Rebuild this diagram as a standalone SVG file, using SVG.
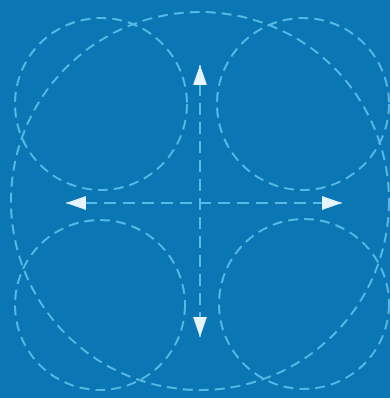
<svg xmlns="http://www.w3.org/2000/svg" width="390" height="398" viewBox="0 0 390 398">
  <defs>
    <style>
      .ring { fill: none; stroke: #58b9e6; stroke-width: 2; stroke-dasharray: 10 6; }
      .axis { fill: none; stroke: #58b9e6; stroke-width: 2; stroke-dasharray: 12 7; }
    </style>
    <marker id="head" viewBox="0 0 20 14" refX="20" refY="7" markerWidth="20" markerHeight="14" markerUnits="userSpaceOnUse" orient="auto-start-reverse">
      <path d="M0,0 L20,7 L0,14 Z" fill="#e6f5fd"/>
    </marker>
  </defs>
  <rect x="0" y="0" width="390" height="398" fill="#0a77b4"/>
  <g id="outer-circle">
    <circle class="ring" cx="200" cy="201" r="189"/>
  </g>
  <g id="circle-top-left">
    <circle class="ring" cx="101" cy="104" r="86"/>
  </g>
  <g id="circle-top-right">
    <circle class="ring" cx="303" cy="104" r="86"/>
  </g>
  <g id="circle-bottom-left">
    <circle class="ring" cx="100" cy="305" r="85"/>
  </g>
  <g id="circle-bottom-right">
    <circle class="ring" cx="304" cy="304" r="85"/>
  </g>
  <g id="connectors">
    <line class="axis" x1="200" y1="65" x2="200" y2="337" marker-start="url(#head)" marker-end="url(#head)"/>
    <line class="axis" x1="66" y1="203" x2="342" y2="203" marker-start="url(#head)" marker-end="url(#head)"/>
  </g>
</svg>
